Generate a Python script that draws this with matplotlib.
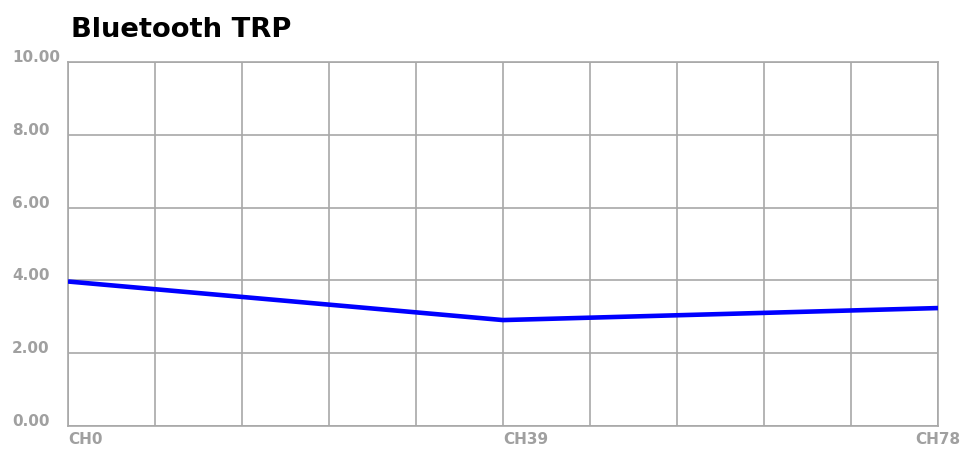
import matplotlib
matplotlib.use("Agg")
import matplotlib.pyplot as plt
import matplotlib.transforms as mtransforms
import numpy as np

title = "Bluetooth TRP"
channels = [0, 39, 78]
channel_labels = ["CH0", "CH39", "CH78"]
trp_values = [3.97, 2.91, 3.24]
y_ticks = [0, 2, 4, 6, 8, 10]
y_tick_labels = ["0.00", "2.00", "4.00", "6.00", "8.00", "10.00"]

plt.rcParams['font.family'] = ['DejaVu Sans']

fig = plt.figure(figsize=(9.67, 4.5), dpi=100)
ax = fig.add_axes([68/967, 1-426/450, (938-68)/967, (426-62)/450])

grid_c = '#a8a8a8'
ax.set_xlim(0, 78)
ax.set_ylim(0, 10)
for x in np.linspace(0, 78, 11):
    ax.axvline(x, color=grid_c, lw=1.2, zorder=1)
for y in y_ticks:
    ax.axhline(y, color=grid_c, lw=1.2, zorder=1)
for s in ax.spines.values():
    s.set_color(grid_c)
    s.set_linewidth(1.2)
ax.set_xticks([])
ax.set_yticks([])

ax.plot(channels, trp_values, color='#0000ff', lw=3.3, zorder=3, solid_capstyle='butt')

lab_c = '#a0a0a0'
ytrans = mtransforms.blended_transform_factory(fig.transFigure, ax.transData)
for y, lab in zip(y_ticks, y_tick_labels):
    ax.text(12/967, y, lab, transform=ytrans, ha='left', va='baseline',
            fontsize=11, fontweight='bold', color=lab_c)

xtrans = mtransforms.blended_transform_factory(ax.transData, fig.transFigure)
aligns = ['left', 'left', 'center']
for x, lab, ha in zip(channels, channel_labels, aligns):
    ax.text(x, 1-432/450, lab, transform=xtrans, ha=ha, va='top',
            fontsize=11, fontweight='bold', color=lab_c)

fig.text(71/967, 1-37/450, title, ha='left', va='baseline',
         fontsize=19.7, fontweight='bold', color='black')

fig.savefig("out.png", dpi=100)
